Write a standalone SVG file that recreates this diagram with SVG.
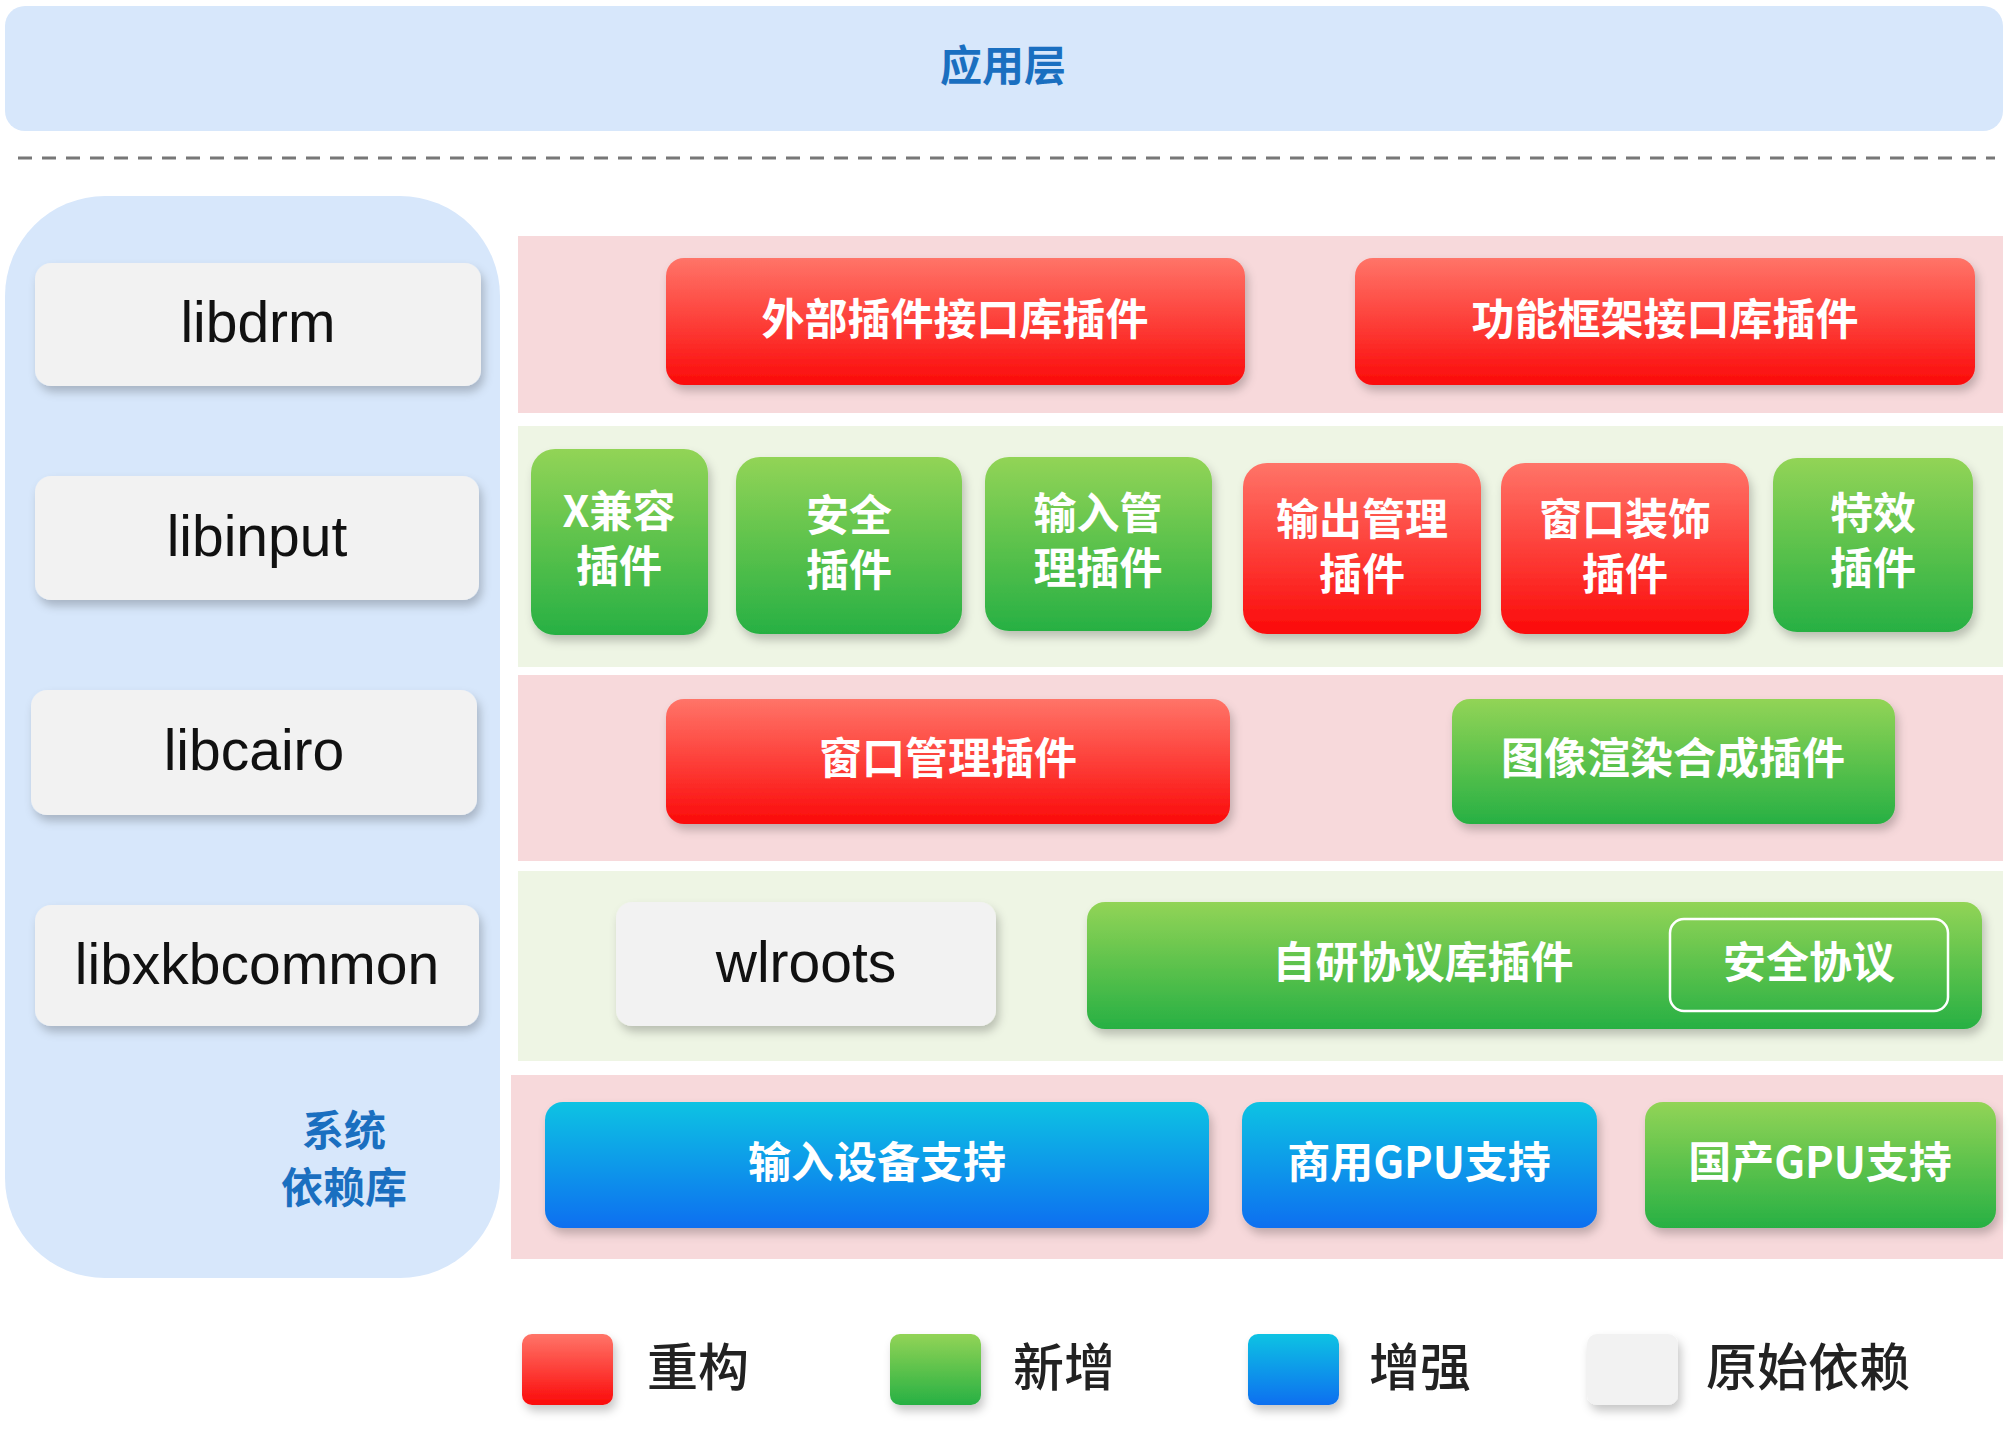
<svg xmlns="http://www.w3.org/2000/svg" width="2012" height="1436" viewBox="0 0 2012 1436">
<defs>
<linearGradient id="gr" x1="0" y1="0" x2="0" y2="1"><stop offset="0" stop-color="#ff7468"/><stop offset="1" stop-color="#fb0a0a"/></linearGradient>
<linearGradient id="gg" x1="0" y1="0" x2="0" y2="1"><stop offset="0" stop-color="#92d456"/><stop offset="1" stop-color="#27b043"/></linearGradient>
<linearGradient id="gb" x1="0" y1="0" x2="0" y2="1"><stop offset="0" stop-color="#0bc3e3"/><stop offset="1" stop-color="#0a6ff0"/></linearGradient>
<filter id="sh" x="-10%" y="-20%" width="125%" height="150%"><feDropShadow dx="3" dy="6" stdDeviation="5" flood-color="#000" flood-opacity="0.22"/></filter>
</defs>
<style>
.r{fill:url(#gr);filter:url(#sh)}
.g{fill:url(#gg);filter:url(#sh)}
.b{fill:url(#gb);filter:url(#sh)}
.w{fill:#f2f2f2;filter:url(#sh)}
.t{font-family:"Noto Sans CJK SC","Liberation Sans",sans-serif;font-weight:700;font-size:43px;fill:#fff;text-anchor:middle}
.l{font-family:"Liberation Sans","Noto Sans CJK SC",sans-serif;font-size:57px;fill:#111;text-anchor:middle}
.bl{font-family:"Noto Sans CJK SC",sans-serif;font-weight:700;font-size:42px;fill:#1a6fc0;text-anchor:middle}
.lg{font-family:"Noto Sans CJK SC",sans-serif;font-weight:500;font-size:51px;fill:#222}
</style>
<rect width="2012" height="1436" fill="#fff"/>
<g id="app"><rect x="5" y="6" width="1998" height="125" rx="20" fill="#d7e7fb"/><text class="bl" x="1003" y="81">应用层</text></g>
<line x1="18" y1="158" x2="1995" y2="158" stroke="#777" stroke-width="3" stroke-dasharray="14 10"/>
<g id="sys"><rect x="5" y="196" width="495" height="1082" rx="100" fill="#d7e7fb"/>
<text class="bl" x="344" y="1146">系统</text><text class="bl" x="344" y="1203">依赖库</text></g>
<g id="libdrm"><rect class="w" x="35" y="263" width="446" height="123" rx="16"/><text class="l" x="258" y="342">libdrm</text></g>
<g id="libinput"><rect class="w" x="35" y="476" width="444" height="124" rx="16"/><text class="l" x="257" y="556">libinput</text></g>
<g id="libcairo"><rect class="w" x="31" y="690" width="446" height="125" rx="16"/><text class="l" x="254" y="770">libcairo</text></g>
<g id="libxkbcommon"><rect class="w" x="35" y="905" width="444" height="121" rx="16"/><text class="l" x="257" y="984">libxkbcommon</text></g>
<g id="rows">
<rect x="518" y="236" width="1485" height="177" fill="#f7d9db"/>
<rect x="518" y="426" width="1485" height="241" fill="#eef5e4"/>
<rect x="518" y="675" width="1485" height="186" fill="#f7d9db"/>
<rect x="518" y="871" width="1485" height="190" fill="#eef5e4"/>
<rect x="511" y="1075" width="1492" height="184" fill="#f7d9db"/>
</g>
<g id="n1"><rect class="r" x="666" y="258" width="579" height="127" rx="18"/><text class="t" x="955" y="335">外部插件接口库插件</text></g>
<g id="n2"><rect class="r" x="1355" y="258" width="620" height="127" rx="18"/><text class="t" x="1665" y="335">功能框架接口库插件</text></g>
<g id="n3"><rect class="g" x="531" y="449" width="177" height="186" rx="24"/><text class="t" x="619" y="527">X兼容</text><text class="t" x="619" y="582">插件</text></g>
<g id="n4"><rect class="g" x="736" y="457" width="226" height="177" rx="24"/><text class="t" x="849" y="531">安全</text><text class="t" x="849" y="586">插件</text></g>
<g id="n5"><rect class="g" x="985" y="457" width="227" height="174" rx="24"/><text class="t" x="1098" y="529">输入管</text><text class="t" x="1098" y="584">理插件</text></g>
<g id="n6"><rect class="r" x="1243" y="463" width="238" height="171" rx="24"/><text class="t" x="1362" y="535">输出管理</text><text class="t" x="1362" y="590">插件</text></g>
<g id="n7"><rect class="r" x="1501" y="463" width="248" height="171" rx="24"/><text class="t" x="1625" y="535">窗口装饰</text><text class="t" x="1625" y="590">插件</text></g>
<g id="n8"><rect class="g" x="1773" y="458" width="200" height="174" rx="24"/><text class="t" x="1873" y="529">特效</text><text class="t" x="1873" y="584">插件</text></g>
<g id="n9"><rect class="r" x="666" y="699" width="564" height="125" rx="18"/><text class="t" x="948" y="774">窗口管理插件</text></g>
<g id="n10"><rect class="g" x="1452" y="699" width="443" height="125" rx="18"/><text class="t" x="1673" y="774">图像渲染合成插件</text></g>
<g id="wlroots"><rect class="w" x="616" y="902" width="380" height="124" rx="16"/><text class="l" x="806" y="982">wlroots</text></g>
<g id="n11"><rect class="g" x="1087" y="902" width="895" height="127" rx="18"/><text class="t" x="1423" y="978">自研协议库插件</text>
<rect x="1670" y="919" width="278" height="92" rx="14" fill="none" stroke="#fff" stroke-width="2.5"/><text class="t" x="1809" y="978">安全协议</text></g>
<g id="n12"><rect class="b" x="545" y="1102" width="664" height="126" rx="18"/><text class="t" x="877" y="1178">输入设备支持</text></g>
<g id="n13"><rect class="b" x="1242" y="1102" width="355" height="126" rx="18"/><text class="t" x="1419" y="1178">商用GPU支持</text></g>
<g id="n14"><rect class="g" x="1645" y="1102" width="351" height="126" rx="18"/><text class="t" x="1820" y="1178">国产GPU支持</text></g>
<g id="legend">
<rect class="r" x="522" y="1334" width="91" height="71" rx="10"/><text class="lg" x="647" y="1386">重构</text>
<rect class="g" x="890" y="1334" width="91" height="71" rx="10"/><text class="lg" x="1013" y="1386">新增</text>
<rect class="b" x="1248" y="1334" width="91" height="71" rx="10"/><text class="lg" x="1369" y="1386">增强</text>
<rect class="w" x="1587" y="1334" width="91" height="71" rx="10"/><text class="lg" x="1706" y="1386">原始依赖</text>
</g>
<g id="connectors"/>
</svg>
